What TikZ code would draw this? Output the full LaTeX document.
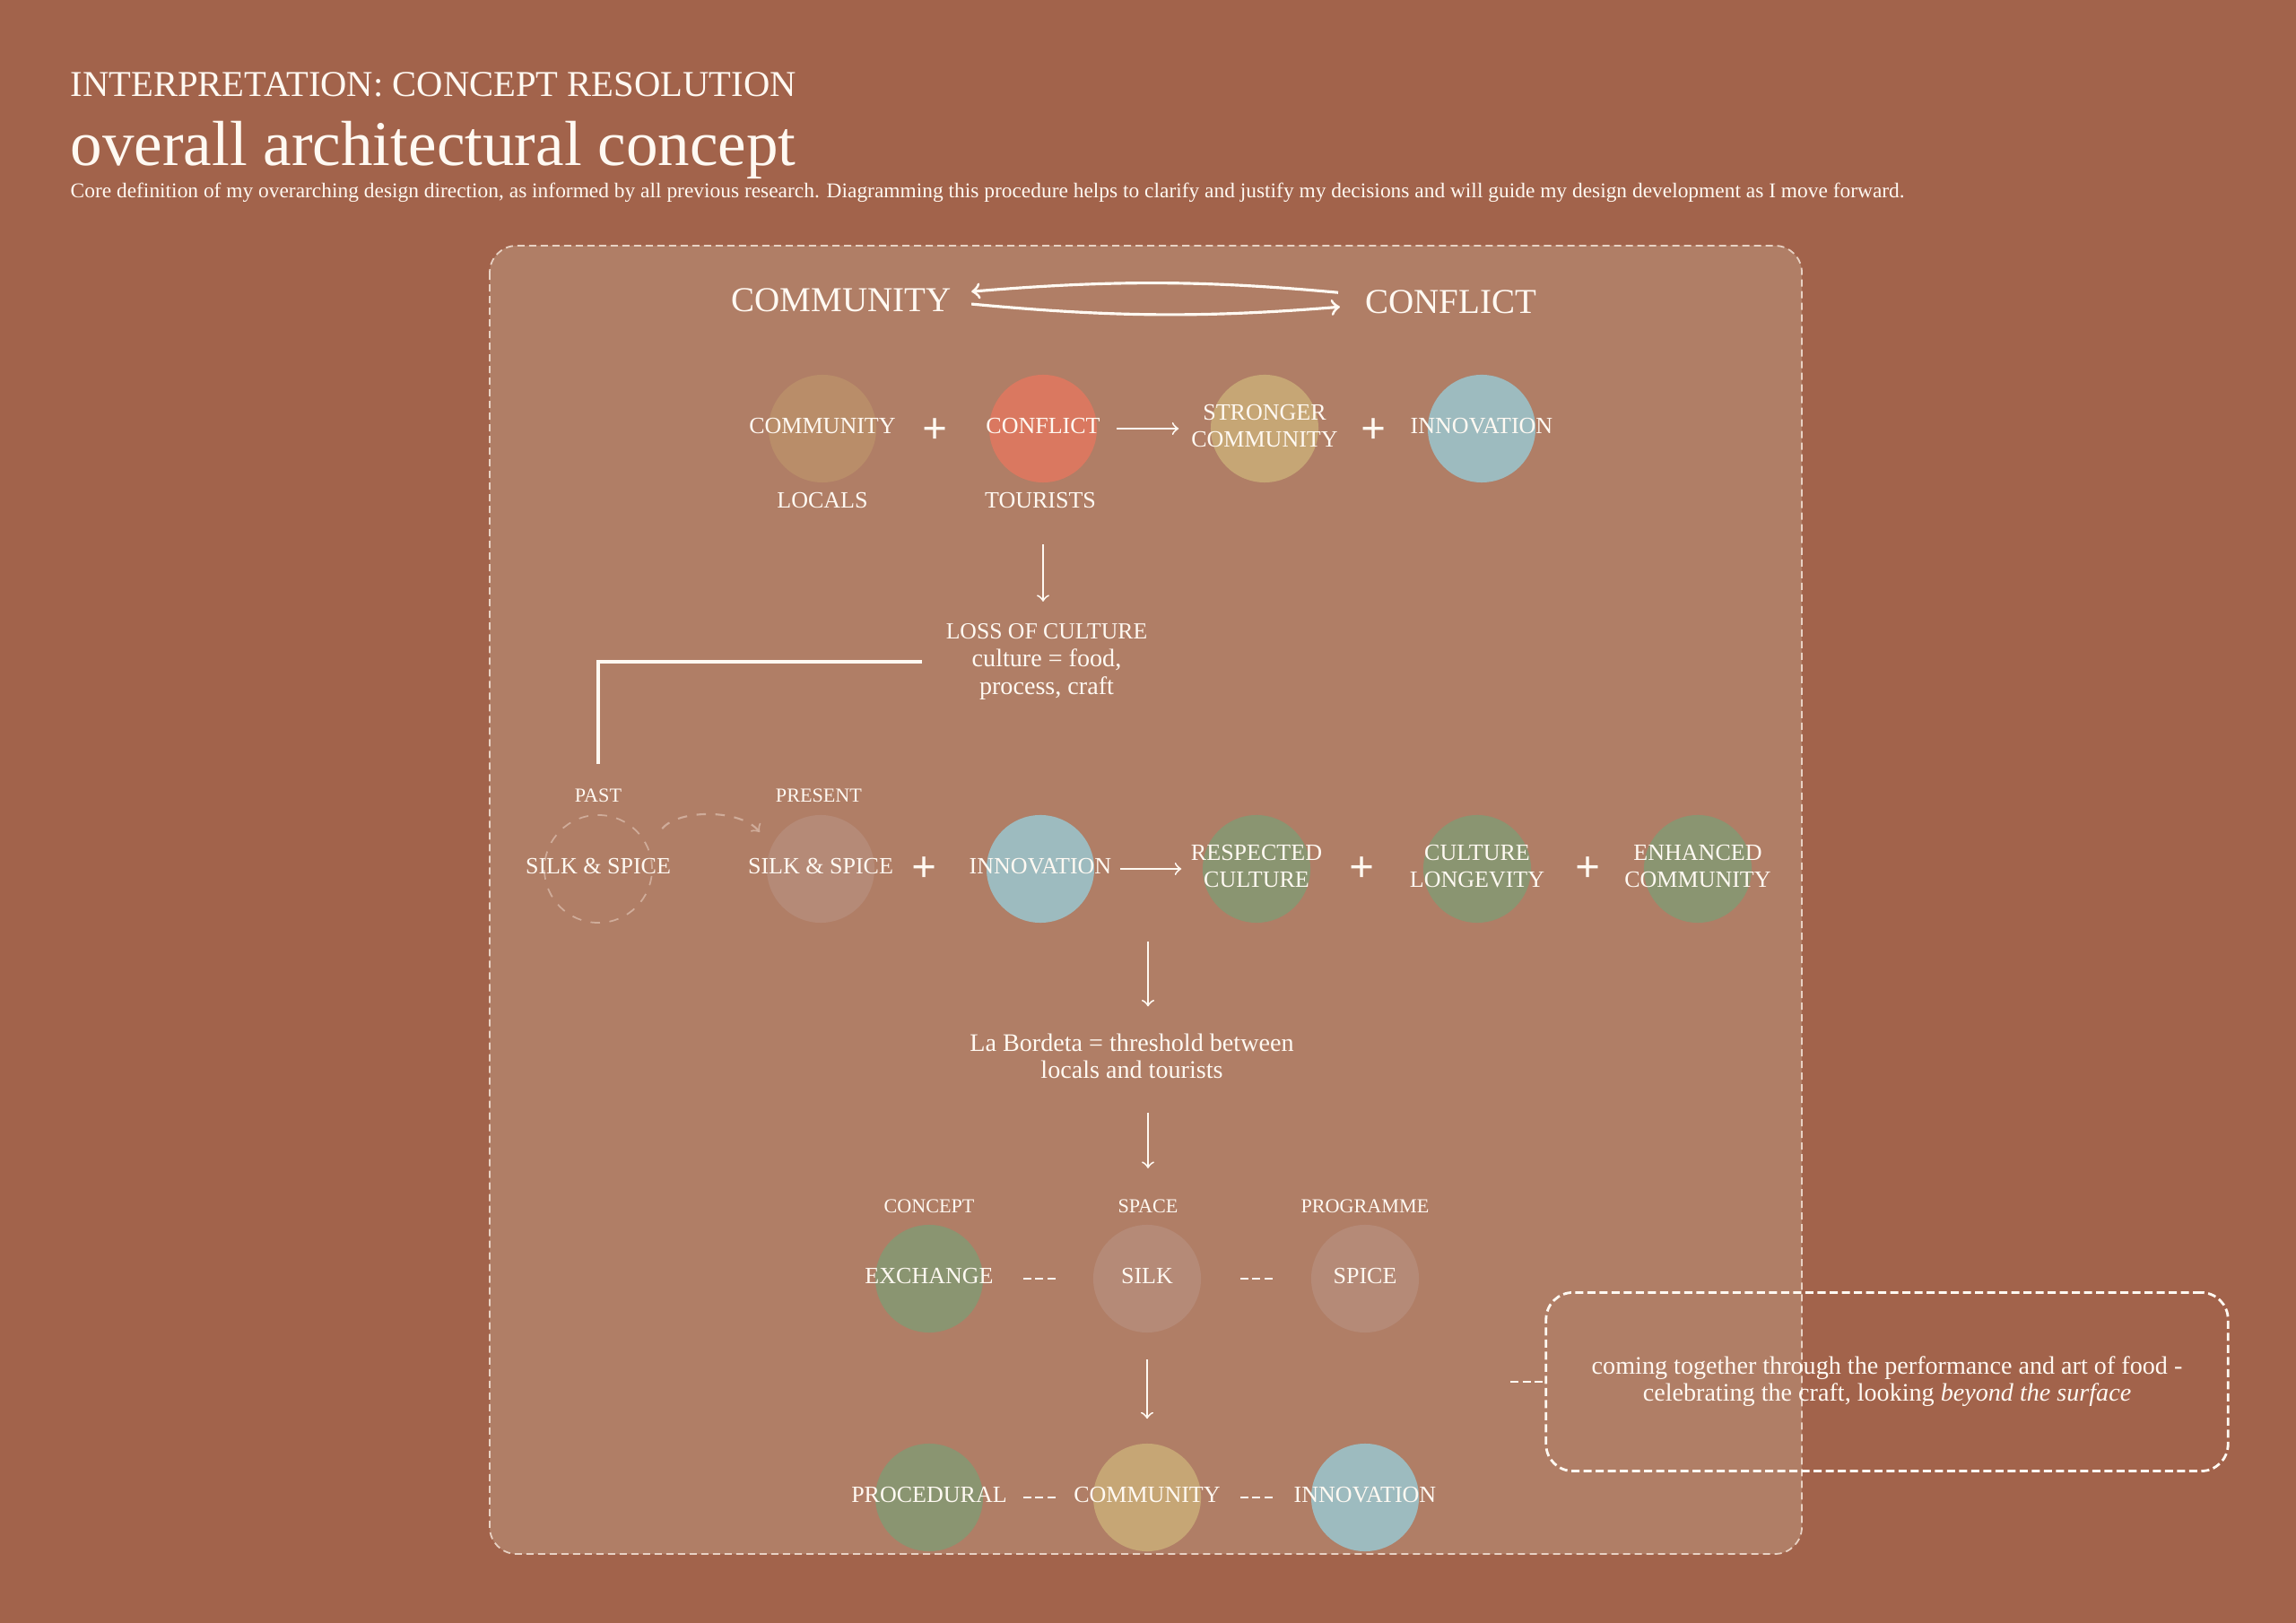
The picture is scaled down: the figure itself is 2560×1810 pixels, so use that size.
\documentclass[tikz,border=0pt]{standalone}
\usepackage{fontspec}
\setmainfont{Liberation Serif}
\usetikzlibrary{arrows,positioning}
\definecolor{bgc}{HTML}{A2634B}
\definecolor{panelc}{HTML}{B07E66}
\definecolor{edgec}{HTML}{E8D2C4}
\definecolor{txtc}{HTML}{FFF9F2}
\definecolor{tanc}{HTML}{B98D69}
\definecolor{redc}{HTML}{DA7860}
\definecolor{sandc}{HTML}{C6A675}
\definecolor{bluec}{HTML}{9DBBBF}
\definecolor{greenc}{HTML}{8A9571}
\definecolor{rosec}{HTML}{B58A77}
\newcommand{\fs}[2]{\fontsize{#1}{#2}\selectfont}

\begin{document}
\begin{tikzpicture}[x=0.01cm,y=-0.01cm,
	blob/.style={circle,minimum size=1.2cm,inner sep=0pt},
	lbl/.style={text=txtc,font=\fs{7.4}{8.4},align=center,inner sep=0pt},
	intxt/.style={lbl,yshift=0.03cm},
	tag/.style={text=txtc,font=\fs{6.3}{7.5},inner sep=0pt},
	body/.style={text=txtc,font=\fs{8}{8.5},align=center,inner sep=0pt},
	plus/.style={text=txtc,font=\fs{14}{14}\bfseries,inner sep=0pt},
	arr/.style={->,>=to,draw=txtc,line width=0.55pt},
	dash3/.style={draw=txtc,line width=0.8pt,dash pattern=on 0.09cm off 0.045cm}]
			\fill[bgc] (0,0) rectangle (2560,1810);
			\useasboundingbox (0,0) rectangle (2560,1810);
			\node[anchor=base west,text=txtc,font=\fs{11.55}{13},inner sep=0pt] (kicker) at (78,108) {INTERPRETATION: CONCEPT RESOLUTION};
			\node[anchor=base west,text=txtc,font=\fs{20.2}{24},inner sep=0pt] (title) at (78,185) {overall architectural concept};
			\node[anchor=base west,text=txtc,font=\fs{6.66}{8},inner sep=0pt] (intro) at (78,221) {Core definition of my overarching design direction, as informed by all previous research. Diagramming this procedure helps to clarify and justify my decisions and will guide my design development as I move forward.};
			\draw[fill=panelc,draw=edgec,line width=0.5pt,dash pattern=on 0.08cm off 0.05cm,rounded corners=0.3cm] (546,274) rectangle (2009,1733);

			\node[text=txtc,font=\fs{11.1}{13},inner sep=0pt] (topcom) at (938,335) {COMMUNITY};
			\node[text=txtc,font=\fs{11.1}{13},inner sep=0pt] (topcon) at (1618,337) {CONFLICT};
			\draw[arr,line width=0.9pt,shorten <=0.3cm,shorten >=0.22cm] ([yshift=0.08cm]topcon.west) to[bend right=5] ([yshift=0.08cm]topcom.east);
			\draw[arr,line width=0.9pt,shorten <=0.22cm,shorten >=0.28cm] ([yshift=-0.02cm]topcom.east) to[bend right=5] ([yshift=-0.03cm]topcon.west);

			\node[blob,fill=tanc] (loc) at (917,478) {};
			\node[blob,fill=redc] (tou) at (1163,478) {};
			\node[blob,fill=sandc] (str) at (1410,478) {};
			\node[blob,fill=bluec] (inn) at (1652,478) {};
			\node[intxt] (locT) at (loc) {COMMUNITY};
			\node[intxt] (touT) at (tou) {CONFLICT};
			\node[intxt] (strT) at (str) {STRONGER\\COMMUNITY};
			\node[intxt] (innT) at (inn) {INNOVATION};
			\node[plus] (p1) at (1043,481) {+};
			\node[plus] (p2) at (1532,481) {+};
			\draw[arr,shorten <=0.21cm,shorten >=0.35cm] (tou) -- (str);
			\node[lbl] (locals) at (917,558) {LOCALS};
			\node[lbl] (tourists) at (1160,558) {TOURISTS};

			\node[body,font=\fs{8}{8.8}] (loss) at (1167,738) {{\fs{7.3}{8.8}LOSS OF CULTURE}\\culture = food,\\process, craft};
			\draw[arr,shorten <=0.4cm,shorten >=0.24cm] (tou |- tourists.south) -- (tou |- loss.north);

			\node[tag] (pasttag) at (667,887) {PAST};
			\node[tag] (prestag) at (913,887) {PRESENT};
			\draw[draw=txtc,line width=0.9pt,shorten >=0.27cm] ([xshift=-0.26cm]loss.west) -| (pasttag.north);

			\node[blob,draw=edgec!55!panelc,dashed,line width=0.5pt] (past) at (667,969) {};
			\node[blob,fill=rosec] (pres) at (915,969) {};
			\node[blob,fill=bluec] (inn2) at (1160,969) {};
			\node[blob,fill=greenc] (resp) at (1401,969) {};
			\node[blob,fill=greenc] (long) at (1647,969) {};
			\node[blob,fill=greenc] (enh) at (1893,969) {};
			\node[intxt] (pastT) at (past) {SILK \& SPICE};
			\node[intxt] (presT) at (pres) {SILK \& SPICE};
			\node[intxt] (inn2T) at (inn2) {INNOVATION};
			\node[intxt] (respT) at (resp) {RESPECTED\\CULTURE};
			\node[intxt] (longT) at (long) {CULTURE\\LONGEVITY};
			\node[intxt] (enhT) at (enh) {ENHANCED\\COMMUNITY};
			\node[plus] (p3) at (1031,970) {+};
			\node[plus] (p4) at (1519,970) {+};
			\node[plus] (p5) at (1771,970) {+};
			\draw[->,>=to,draw=edgec!55!panelc,dashed,line width=0.6pt,shorten <=0.25cm,shorten >=0.2cm] (past.25) to[out=50,in=130] (pres.155);
			\draw[arr,shorten <=0.28cm,shorten >=0.23cm] (inn2) -- (resp);

			\coordinate (r2) at (1280,1050);
			\node[body] (bord) at (1262,1178) {La Bordeta = threshold between\\locals and tourists};
			\draw[arr,shorten >=0.3cm] (r2) -- (r2 |- bord.north);

			\node[tag] (contag) at (1036,1345) {CONCEPT};
			\node[tag] (spatag) at (1280,1345) {SPACE};
			\node[tag] (protag) at (1522,1345) {PROGRAMME};
			\draw[arr,shorten <=0.37cm,shorten >=0.34cm] (bord.south -| spatag) -- (spatag.north);

			\node[blob,fill=greenc] (exc) at (1036,1426) {};
			\node[blob,fill=rosec] (silk) at (1279,1426) {};
			\node[blob,fill=rosec] (spice) at (1522,1426) {};
			\node[intxt] (excT) at (exc) {EXCHANGE};
			\node[intxt] (silkT) at (silk) {SILK};
			\node[intxt] (spiceT) at (spice) {SPICE};
			\draw[dash3,shorten <=0.44cm,shorten >=0.38cm] (exc) -- (silk);
			\draw[dash3,shorten <=0.43cm,shorten >=0.39cm] (silk) -- (spice);

			\node[blob,fill=greenc] (proc) at (1036,1670) {};
			\node[blob,fill=sandc] (comm) at (1279,1670) {};
			\node[blob,fill=bluec] (inn4) at (1522,1670) {};
			\node[intxt] (procT) at (proc) {PROCEDURAL};
			\node[intxt] (commT) at (comm) {COMMUNITY};
			\node[intxt] (inn4T) at (inn4) {INNOVATION};
			\draw[dash3,shorten <=0.44cm,shorten >=0.38cm] (proc) -- (comm);
			\draw[dash3,shorten <=0.43cm,shorten >=0.39cm] (comm) -- (inn4);
			\draw[arr,shorten <=0.29cm,shorten >=0.27cm] (silk) -- (comm);

			\node[body,dash3,rounded corners=0.3cm,minimum width=7.6cm,minimum height=1.99cm] (note) at (2104,1541) {coming together through the performance and art of food -\\celebrating the craft, looking \textit{beyond the surface}};
			\coordinate (tail) at (1684,1541);
			\draw[dash3] (tail) -- (note.west);
		\end{tikzpicture}
\end{document}
